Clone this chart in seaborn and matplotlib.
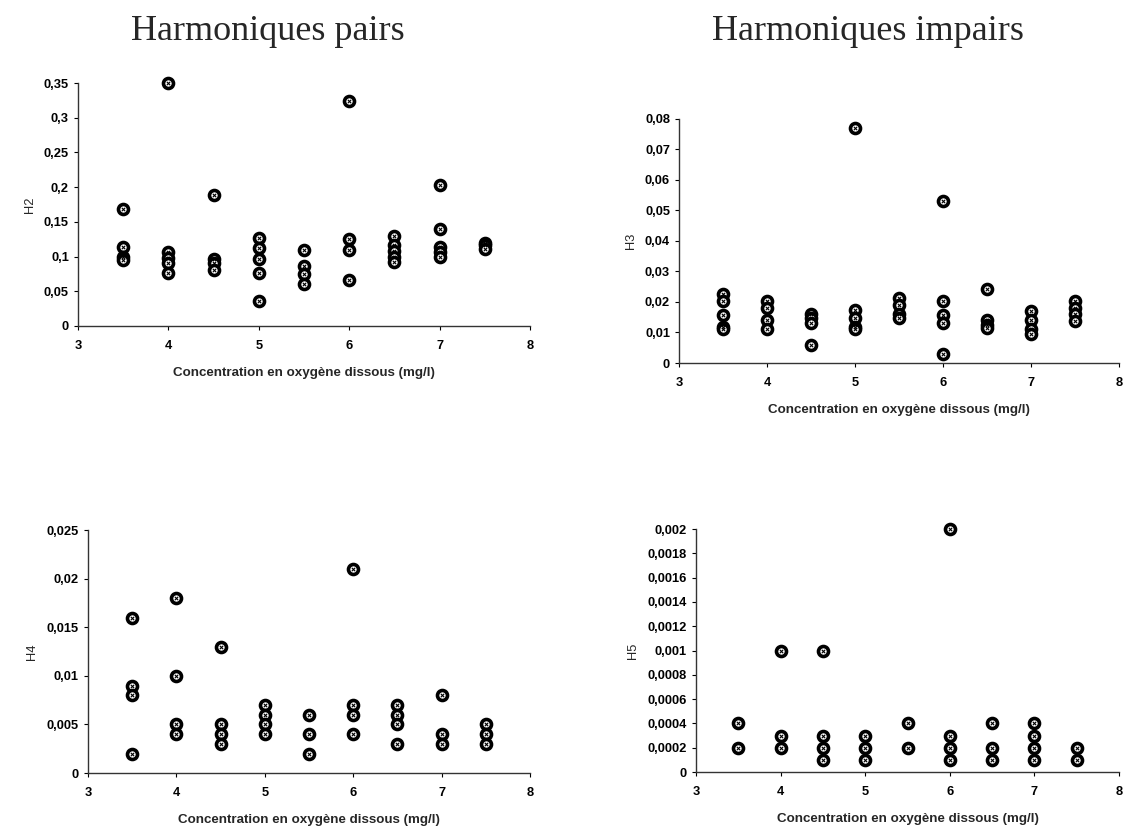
import numpy as np
import pandas as pd
import matplotlib
matplotlib.use("Agg")
import matplotlib.pyplot as plt
from matplotlib.ticker import FuncFormatter, MultipleLocator
import seaborn as sns

# oxygen concentration (mg/l) and harmonic values
x_h2 = [3.5, 3.5, 3.5, 3.5, 4, 4, 4, 4, 4, 4.5, 4.5, 4.5, 4.5,
        5, 5, 5, 5, 5, 5.5, 5.5, 5.5, 5.5, 6, 6, 6, 6,
        6.5, 6.5, 6.5, 6.5, 6.5, 7, 7, 7, 7, 7, 7.5, 7.5, 7.5]
h2 = [0.168, 0.114, 0.1, 0.095, 0.35, 0.106, 0.098, 0.091, 0.077, 0.188, 0.096, 0.091, 0.081,
      0.127, 0.113, 0.097, 0.077, 0.036, 0.109, 0.086, 0.075, 0.061, 0.324, 0.125, 0.11, 0.066,
      0.129, 0.116, 0.108, 0.1, 0.092, 0.203, 0.14, 0.114, 0.107, 0.1, 0.12, 0.117, 0.111]

x_h3 = [3.5, 3.5, 3.5, 3.5, 3.5, 4, 4, 4, 4, 4.5, 4.5, 4.5, 4.5,
        5, 5, 5, 5, 5, 5.5, 5.5, 5.5, 5.5, 6, 6, 6, 6, 6,
        6.5, 6.5, 6.5, 6.5, 7, 7, 7, 7, 7.5, 7.5, 7.5, 7.5]
h3 = [0.0225, 0.0202, 0.0158, 0.0118, 0.011, 0.0204, 0.0179, 0.014, 0.011, 0.0162, 0.0149, 0.0132, 0.006,
      0.077, 0.0173, 0.0149, 0.0118, 0.011, 0.0213, 0.019, 0.0162, 0.0147, 0.053, 0.0202, 0.0159, 0.0132, 0.0031,
      0.0241, 0.014, 0.0126, 0.0116, 0.0171, 0.0142, 0.011, 0.0094, 0.0202, 0.018, 0.0162, 0.0138]

x_h4 = [3.5, 3.5, 3.5, 3.5, 4, 4, 4, 4, 4.5, 4.5, 4.5, 4.5,
        5, 5, 5, 5, 5.5, 5.5, 5.5, 6, 6, 6, 6,
        6.5, 6.5, 6.5, 6.5, 7, 7, 7, 7.5, 7.5, 7.5]
h4 = [0.016, 0.009, 0.008, 0.002, 0.018, 0.01, 0.005, 0.004, 0.013, 0.005, 0.004, 0.003,
      0.007, 0.006, 0.005, 0.004, 0.006, 0.004, 0.002, 0.021, 0.007, 0.006, 0.004,
      0.007, 0.006, 0.005, 0.003, 0.008, 0.004, 0.003, 0.005, 0.004, 0.003]

x_h5 = [3.5, 3.5, 4, 4, 4, 4.5, 4.5, 4.5, 4.5, 5, 5, 5, 5.5, 5.5,
        6, 6, 6, 6, 6.5, 6.5, 6.5, 7, 7, 7, 7, 7.5, 7.5]
h5 = [0.0004, 0.0002, 0.001, 0.0003, 0.0002, 0.001, 0.0003, 0.0002, 0.0001, 0.0003, 0.0002, 0.0001, 0.0004, 0.0002,
      0.002, 0.0003, 0.0002, 0.0001, 0.0004, 0.0002, 0.0001, 0.0004, 0.0003, 0.0002, 0.0001, 0.0002, 0.0001]

sns.set_style("white")
plt.rcParams['font.family'] = ['Liberation Sans', 'DejaVu Sans']

fig = plt.figure(figsize=(11.34, 8.32), dpi=100)

panels = [
    ("H2", x_h2, h2, 0.35, 0.05, [0.0688, 0.6082, 0.3986, 0.292]),
    ("H3", x_h3, h3, 0.08, 0.01, [0.5988, 0.5637, 0.388, 0.2933]),
    ("H4", x_h4, h4, 0.025, 0.005, [0.0776, 0.0709, 0.3898, 0.292]),
    ("H5", x_h5, h5, 0.002, 0.0002, [0.6138, 0.0721, 0.373, 0.292]),
]

def comma_fmt(v, pos):
    v = round(v, 6)
    if v == 0:
        return "0"
    return f"{v:g}".replace(".", ",")

for name, xs, ys, ymax, step, rect in panels:
    ax = fig.add_axes(rect)
    df = pd.DataFrame({"O2": xs, name: ys})
    sns.scatterplot(data=df, x="O2", y=name, ax=ax, marker="o", s=52,
                    facecolor="white", edgecolor="black", linewidth=2.6,
                    zorder=3, clip_on=False)
    sns.scatterplot(data=df, x="O2", y=name, ax=ax, marker="x", s=6,
                    color="black", linewidth=0.8, zorder=4, clip_on=False)
    ax.set_xlim(3, 8)
    ax.set_ylim(0, ymax)
    ax.xaxis.set_major_locator(MultipleLocator(1))
    ax.yaxis.set_major_locator(MultipleLocator(step))
    ax.yaxis.set_major_formatter(FuncFormatter(comma_fmt))
    for s in ["top", "right"]:
        ax.spines[s].set_visible(False)
    for s in ["left", "bottom"]:
        ax.spines[s].set_color("#333333")
        ax.spines[s].set_linewidth(1.0)
    ax.tick_params(axis="both", direction="out", length=3, width=0.8,
                   labelsize=9.3, colors="black", left=True, bottom=True)
    ax.tick_params(axis="x", pad=7)
    for lab in ax.get_xticklabels() + ax.get_yticklabels():
        lab.set_fontweight("bold")
    ax.set_xlabel("Concentration en oxygène dissous (mg/l)", fontsize=9.6,
                  fontweight="bold", labelpad=11)
    ax.set_ylabel(name, fontsize=9.3, labelpad=6)
    ax.grid(False)

fig.text(0.236, 0.962, "Harmoniques pairs", family="Liberation Serif",
         fontsize=26, ha="center", va="center")
fig.text(0.765, 0.962, "Harmoniques impairs", family="Liberation Serif",
         fontsize=26, ha="center", va="center")

fig.savefig("out.png", dpi=100)
